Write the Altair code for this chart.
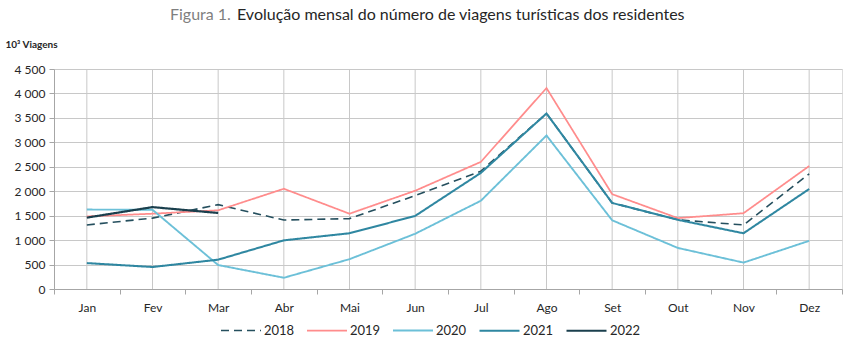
import altair as alt
import pandas as pd

months = ["Jan", "Fev", "Mar", "Abr", "Mai", "Jun", "Jul", "Ago", "Set", "Out", "Nov", "Dez"]
years = ["2018", "2019", "2020", "2021", "2022"]
v2018 = [1310, 1450, 1725, 1410, 1440, 1910, 2410, 3590, 1760, 1415, 1310, 2355]
v2019 = [1485, 1540, 1610, 2050, 1540, 2010, 2600, 4110, 1940, 1450, 1550, 2515]
v2020 = [1625, 1620, 490, 230, 610, 1130, 1805, 3140, 1405, 840, 540, 985]
v2021 = [530, 450, 600, 995, 1140, 1495, 2375, 3590, 1760, 1415, 1140, 2045]
v2022 = [1460, 1675, 1555]

colors = ["#254f5e", "#ff8c8c", "#6cc0d8", "#2f87a1", "#1a3f4d"]
widths = [1.6, 2.2, 2.6, 2.6, 3.6]
dashes = [[8, 5], [1, 0], [1, 0], [1, 0], [1, 0]]

rows = []
for y, vals in zip(years, [v2018, v2019, v2020, v2021, v2022]):
    for m, v in zip(months, vals):
        rows.append({"month": m, "year": y, "value": v})
df = pd.DataFrame(rows)

FONT = "Lato"
xscale = alt.Scale(type="band", domain=months, paddingInner=0, paddingOuter=0)
xaxis = alt.Axis(tickBand="extent", grid=False, labelAngle=0, labelFont=FONT,
                 labelFontSize=12, labelColor="#262626", labelPadding=8,
                 domainColor="#a6a6a6", tickColor="#a6a6a6", tickSize=5)
legend = alt.Legend(
    title=None, orient="none", legendX=166, legendY=240, direction="horizontal",
    symbolType="stroke", symbolSize=1600, labelFontSize=13, labelFont=FONT,
    labelColor="#262626", columnPadding=8, labelOffset=2,
)

grid_v = alt.Chart(pd.DataFrame({"month": months})).mark_rule(color="#c8c8c8", strokeWidth=1).encode(
    x=alt.X("month:N", scale=xscale, sort=months, title=None, axis=xaxis),
    y=alt.value(0), y2=alt.value(220),
)

lines = alt.Chart(df).mark_line(strokeCap="butt", strokeJoin="miter").encode(
    x=alt.X("month:N", scale=xscale, sort=months, title=None, axis=xaxis),
    y=alt.Y("value:Q", scale=alt.Scale(domain=[0, 4500], nice=False),
            title="10³ Viagens",
            axis=alt.Axis(values=list(range(0, 4501, 500)),
                          labelExpr="replace(format(datum.value, ','), ',', ' ')",
                          labelFont=FONT, labelFontSize=12, labelColor="#262626", labelPadding=4,
                          gridColor="#c8c8c8", domainColor="#a6a6a6", tickColor="#a6a6a6", tickSize=5,
                          titleAngle=0, titleX=-49, titleY=-20, titleAlign="left",
                          titleFont=FONT, titleFontSize=10, titleFontWeight="bold", titleColor="#262626")),
    color=alt.Color("year:N", scale=alt.Scale(domain=years, range=colors), legend=legend),
    strokeDash=alt.StrokeDash("year:N", scale=alt.Scale(domain=years, range=dashes), legend=legend),
    strokeWidth=alt.StrokeWidth("year:N", scale=alt.Scale(domain=years, range=widths), legend=legend),
    order=alt.Order("year:N"),
)

t1 = alt.Chart(pd.DataFrame({"t": ["Figura 1."]})).mark_text(
    align="left", baseline="alphabetic", font=FONT, fontSize=16, color="#7f7f7f"
).encode(text="t:N", x=alt.value(116), y=alt.value(-49))
t2 = alt.Chart(pd.DataFrame({"t": ["Evolução mensal do número de viagens turísticas dos residentes"]})).mark_text(
    align="left", baseline="alphabetic", font=FONT, fontSize=16, color="#262626"
).encode(text="t:N", x=alt.value(183), y=alt.value(-49))

chart = alt.layer(grid_v, lines, t1, t2).properties(
    width=788, height=220,
    autosize=alt.AutoSizeParams(type="none"),
    padding={"left": 54, "top": 69, "right": 9, "bottom": 58},
).configure_view(stroke=None).configure(background="white")

chart.save("out.html", embed_options={"renderer": "svg", "actions": False})
